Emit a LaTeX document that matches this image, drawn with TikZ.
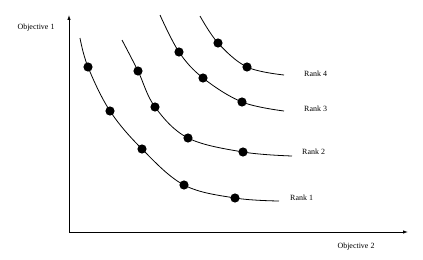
\documentclass[tikz,border=0pt]{standalone}
\usepackage{fontspec}
\setmainfont{Liberation Serif}
\usetikzlibrary{arrows.meta}

\begin{document}
\begin{tikzpicture}[x=1bp,y=-1bp,
    front/.style={line width=0.8pt},
    sol/.style={fill=black},
    lbl/.style={font=\fontsize{8}{9.5}\selectfont, inner sep=0pt}]
    \useasboundingbox (0,0) rectangle (423,260);
    % axes
    \coordinate (o) at (69,232);
    \coordinate (ytip) at (69,15);
    \coordinate (xtip) at (408,232);
    \draw[line width=0.8pt, -{Latex[length=5pt,width=3.5pt]}] (o) -- (ytip);
    \draw[line width=0.8pt, -{Latex[length=5pt,width=3.5pt]}] (o) -- (xtip);
    \node[lbl] (obj1) at (36,28) {Objective 1};
    \node[lbl] (obj2) at (356,247) {Objective 2};
    % rank 1
    \draw[front] plot[smooth, tension=0.6] coordinates
      {(80,38) (88,67) (110,111) (142,149) (184,185) (235,198) (279,201)};
    \foreach \p in {(88,67),(110,111),(142,149),(184,185),(235,198)}
      \fill[sol] \p circle (4.6);
    \node[lbl, anchor=west] (r1) at (290,198) {Rank 1};
    % rank 2
    \draw[front] plot[smooth, tension=0.6] coordinates
      {(122,40) (138,71) (155,107) (188,138) (243,152) (292,156)};
    \foreach \p in {(138,71),(155,107),(188,138),(243,152)}
      \fill[sol] \p circle (4.6);
    \node[lbl, anchor=west] (r2) at (302,152) {Rank 2};
    % rank 3
    \draw[front] plot[smooth, tension=0.6] coordinates
      {(160,15) (179,52) (203,78) (242,102) (284,111)};
    \foreach \p in {(179,52),(203,78),(242,102)}
      \fill[sol] \p circle (4.6);
    \node[lbl, anchor=west] (r3) at (304,109) {Rank 3};
    % rank 4
    \draw[front] plot[smooth, tension=0.6] coordinates
      {(200,16) (218,43) (247,67) (284,75)};
    \foreach \p in {(218,43),(247,67)}
      \fill[sol] \p circle (4.6);
    \node[lbl, anchor=west] (r4) at (304,74) {Rank 4};
\end{tikzpicture}
\end{document}
